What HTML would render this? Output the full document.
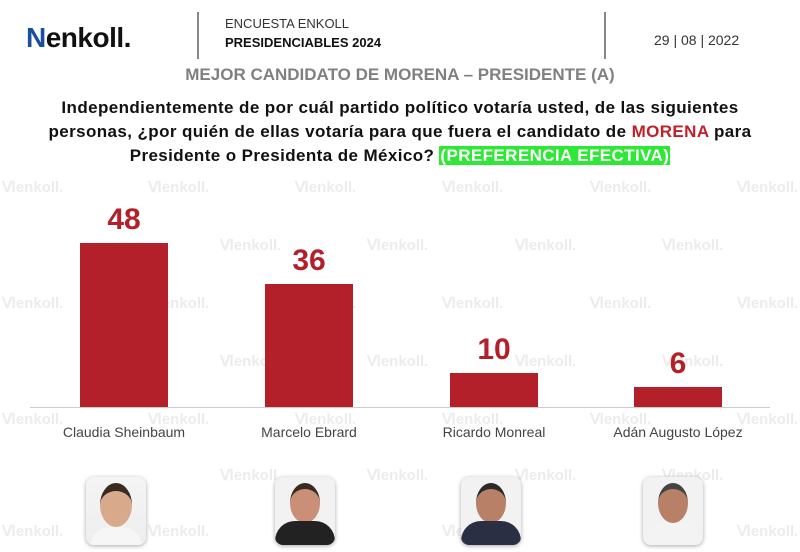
<!DOCTYPE html>
<html><head><meta charset="utf-8"><style>
*{margin:0;padding:0;box-sizing:border-box}
body{width:800px;height:552px;background:#fff;position:relative;overflow:hidden;font-family:"Liberation Sans",sans-serif}
.a{position:absolute;white-space:nowrap}
.wm{position:absolute;color:#ececec;font-weight:bold;font-size:15px}
.bar{position:absolute;background:#b3202a}
.num{position:absolute;color:#b3202a;font-weight:bold;font-size:30px;text-align:center;width:88px}
.lbl{position:absolute;color:#444;font-size:14px;text-align:center;width:200px}
.ph{position:absolute;width:60px;height:68px;border-radius:8px;background:#eee;box-shadow:0 1px 4px rgba(0,0,0,.35);overflow:hidden}
</style></head><body>
<div class="wm" style="left:2px;top:178px">Ⅵenkoll.</div>
<div class="wm" style="left:148px;top:178px">Ⅵenkoll.</div>
<div class="wm" style="left:295px;top:178px">Ⅵenkoll.</div>
<div class="wm" style="left:442px;top:178px">Ⅵenkoll.</div>
<div class="wm" style="left:590px;top:178px">Ⅵenkoll.</div>
<div class="wm" style="left:737px;top:178px">Ⅵenkoll.</div>
<div class="wm" style="left:220px;top:236px">Ⅵenkoll.</div>
<div class="wm" style="left:367px;top:236px">Ⅵenkoll.</div>
<div class="wm" style="left:515px;top:236px">Ⅵenkoll.</div>
<div class="wm" style="left:662px;top:236px">Ⅵenkoll.</div>
<div class="wm" style="left:2px;top:294px">Ⅵenkoll.</div>
<div class="wm" style="left:148px;top:294px">Ⅵenkoll.</div>
<div class="wm" style="left:295px;top:294px">Ⅵenkoll.</div>
<div class="wm" style="left:442px;top:294px">Ⅵenkoll.</div>
<div class="wm" style="left:590px;top:294px">Ⅵenkoll.</div>
<div class="wm" style="left:737px;top:294px">Ⅵenkoll.</div>
<div class="wm" style="left:220px;top:352px">Ⅵenkoll.</div>
<div class="wm" style="left:367px;top:352px">Ⅵenkoll.</div>
<div class="wm" style="left:515px;top:352px">Ⅵenkoll.</div>
<div class="wm" style="left:662px;top:352px">Ⅵenkoll.</div>
<div class="wm" style="left:2px;top:410px">Ⅵenkoll.</div>
<div class="wm" style="left:148px;top:410px">Ⅵenkoll.</div>
<div class="wm" style="left:295px;top:410px">Ⅵenkoll.</div>
<div class="wm" style="left:442px;top:410px">Ⅵenkoll.</div>
<div class="wm" style="left:590px;top:410px">Ⅵenkoll.</div>
<div class="wm" style="left:737px;top:410px">Ⅵenkoll.</div>
<div class="wm" style="left:220px;top:466px">Ⅵenkoll.</div>
<div class="wm" style="left:367px;top:466px">Ⅵenkoll.</div>
<div class="wm" style="left:515px;top:466px">Ⅵenkoll.</div>
<div class="wm" style="left:662px;top:466px">Ⅵenkoll.</div>
<div class="wm" style="left:2px;top:522px">Ⅵenkoll.</div>
<div class="wm" style="left:148px;top:522px">Ⅵenkoll.</div>
<div class="wm" style="left:442px;top:522px">Ⅵenkoll.</div>
<div class="wm" style="left:737px;top:522px">Ⅵenkoll.</div>

<div class="a" style="left:26px;top:22px;font-size:28px;font-weight:bold;color:#111;letter-spacing:-0.5px"><span style="color:#1a4fa0">N</span>enkoll.</div>
<div class="a" style="left:197px;top:12px;width:2px;height:47px;background:#888"></div>
<div class="a" style="left:225px;top:16px;font-size:13px;color:#333">ENCUESTA ENKOLL</div>
<div class="a" style="left:225px;top:35px;font-size:13px;font-weight:bold;color:#111">PRESIDENCIABLES 2024</div>
<div class="a" style="left:604px;top:12px;width:2px;height:47px;background:#888"></div>
<div class="a" style="left:654px;top:32px;font-size:14px;color:#333">29 | 08 | 2022</div>
<div class="a" style="left:0;width:800px;top:65px;text-align:center;font-size:17px;color:#808080;font-weight:bold">MEJOR CANDIDATO DE MORENA – PRESIDENTE (A)</div>
<div class="a" style="left:0;width:800px;top:96px;text-align:center;font-size:17px;letter-spacing:0.4px;font-weight:bold;color:#111;line-height:24px">Independientemente de por cuál partido político votaría usted, de las siguientes<br>personas, ¿por quién de ellas votaría para que fuera el candidato de <span style="color:#c0202a">MORENA</span> para<br>Presidente o Presidenta de México? <span style="background:#2ee836;color:#fff;padding:0 1px">(PREFERENCIA EFECTIVA)</span></div>

<div class="a" style="left:30px;top:407px;width:740px;height:1px;background:#ccc"></div>
<div class="bar" style="left:80px;top:243px;width:88px;height:164px"></div>
<div class="bar" style="left:265px;top:284px;width:88px;height:123px"></div>
<div class="bar" style="left:450px;top:373px;width:88px;height:34px"></div>
<div class="bar" style="left:634px;top:387px;width:88px;height:20px"></div>
<div class="num" style="left:80px;top:203px">48</div>
<div class="num" style="left:265px;top:244px">36</div>
<div class="num" style="left:450px;top:333px">10</div>
<div class="num" style="left:634px;top:347px">6</div>
<div class="lbl" style="left:24px;top:424px">Claudia Sheinbaum</div>
<div class="lbl" style="left:209px;top:424px">Marcelo Ebrard</div>
<div class="lbl" style="left:394px;top:424px">Ricardo Monreal</div>
<div class="lbl" style="left:578px;top:424px">Adán Augusto López</div>

<div class="ph" style="left:86px;top:477px;background:linear-gradient(#f4f4f4,#eee)"><div style="position:absolute;left:14px;top:6px;width:32px;height:44px;border-radius:50%;background:#d9a98c;border-top:8px solid #3a2a20"></div><div style="position:absolute;left:4px;top:50px;width:52px;height:20px;border-radius:20px 20px 0 0;background:#f6f6f6"></div></div>
<div class="ph" style="left:275px;top:477px;background:#f2f2f2"><div style="position:absolute;left:15px;top:6px;width:30px;height:40px;border-radius:50%;background:#c99077;border-top:6px solid #3a2a20"></div><div style="position:absolute;left:0;top:44px;width:60px;height:26px;border-radius:20px 20px 0 0;background:#222"></div></div>
<div class="ph" style="left:461px;top:477px;background:#f2f2f2"><div style="position:absolute;left:15px;top:6px;width:30px;height:40px;border-radius:50%;background:#b98068;border-top:6px solid #2a2a2a"></div><div style="position:absolute;left:0;top:44px;width:60px;height:26px;border-radius:20px 20px 0 0;background:#2a2f44"></div></div>
<div class="ph" style="left:643px;top:477px;background:#f2f2f2"><div style="position:absolute;left:15px;top:6px;width:30px;height:40px;border-radius:50%;background:#b98068;border-top:6px solid #444"></div><div style="position:absolute;left:0;top:46px;width:60px;height:24px;border-radius:20px 20px 0 0;background:#f3f3f3"></div></div>
</body></html>
